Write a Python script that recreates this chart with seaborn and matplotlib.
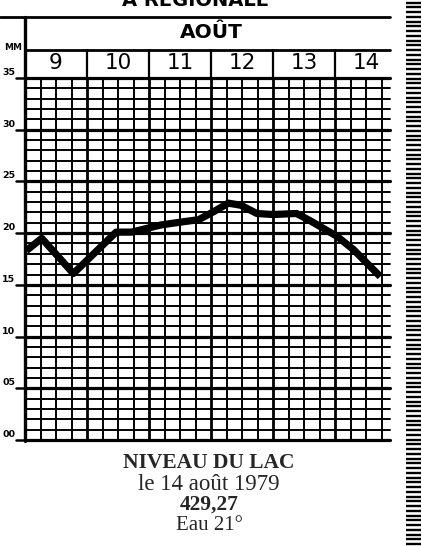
import numpy as np
import matplotlib
matplotlib.use("Agg")
import matplotlib.pyplot as plt
import seaborn as sns
from matplotlib.lines import Line2D

# ---------------- data ----------------
days = [9, 10, 11, 12, 13, 14]
day_labels = ["9", "10", "11", "12", "13", "14"]
month_label = "AOÛT"
y_ticks = [0, 5, 10, 15, 20, 25, 30, 35]
y_tick_labels = ["00", "05", "10", "15", "20", "25", "30", "35"]
unit_label = "MM"
time_pos = [9.02, 9.27, 9.78, 10.47, 10.72, 11.20, 11.55, 11.80, 12.05, 12.28,
            12.48, 12.74, 13.00, 13.38, 13.60, 14.03, 14.30, 14.73]
level = [18.3, 19.5, 16.1, 20.1, 20.1, 20.8, 21.1, 21.3, 22.1, 22.9,
         22.7, 21.9, 21.8, 21.9, 21.2, 19.7, 18.4, 15.8]
footer_lines = ["NIVEAU DU LAC", "le 14 août 1979", "429,27", "Eau 21°"]
top_title = "A RÉGIONALE"

# ---------------- figure ----------------
sns.set_theme(style="white")
plt.rcParams["font.family"] = ["DejaVu Sans"]

W, H = 422, 546
fig = plt.figure(figsize=(W / 100, H / 100), dpi=100)
fig.patch.set_facecolor("white")

def fx(px):
    return px / W

def fy(py):
    return 1 - py / H

left_px, right_px, top_px, bot_px = 25, 390, 78, 440
ax = fig.add_axes([fx(left_px), fy(bot_px), fx(right_px) - fx(left_px), fy(top_px) - fy(bot_px)])
day_w = 62.0
xmax = days[0] + (right_px - left_px) / day_w
ax.set_xlim(days[0], xmax)
ax.set_ylim(0, 35)
ax.set_facecolor("white")
for s in ax.spines.values():
    s.set_visible(False)
ax.set_xticks([])
ax.set_yticks([])

px_per_mm = (bot_px - top_px) / 35.0

# grid: vertical lines (quarter days), horizontal lines (mm)
for q in np.arange(days[0] + 0.25, days[-1] + 0.76, 0.25):
    major = abs(q - round(q)) < 1e-6
    ax.axvline(q, color="black", lw=2.0 if major else 1.4, clip_on=False, zorder=1)
for v in range(0, 36):
    ax.axhline(v, color="black", lw=2.3 if v % 5 == 0 else 1.4, clip_on=False, zorder=1)

# data line
sns.lineplot(x=time_pos, y=level, ax=ax, color="black", linewidth=5.2,
             sort=False, legend=False, zorder=3)
for ln in ax.lines[-1:]:
    ln.set_solid_joinstyle("round")
    ln.set_solid_capstyle("butt")

# y tick labels + ticks
ytf = ax.get_yaxis_transform()
tick_len = 9 / (right_px - left_px)
for v, lab in zip(y_ticks, y_tick_labels):
    ax.add_line(Line2D([-tick_len, 0], [v, v], transform=ytf, color="black",
                       lw=1.8, clip_on=False))
    ax.text(-tick_len - 0.002, v + 0.1, lab, transform=ytf, ha="right", va="bottom",
            fontsize=6.8, fontweight="bold", color="black")

# header (in data coordinates above the grid)
y_hdr_mid = 35 + (top_px - 50) / px_per_mm
y_hdr_top = 35 + (top_px - 17) / px_per_mm
ax.plot([days[0], xmax], [y_hdr_mid, y_hdr_mid], color="black", lw=2.0, clip_on=False)
for d in days[1:]:
    ax.plot([d, d], [35, y_hdr_mid], color="black", lw=1.6, clip_on=False)
for d, lab in zip(days, day_labels):
    ax.text(d + 0.5, (35 + y_hdr_mid) / 2 + 0.05, lab, ha="center", va="center",
            fontsize=15.5, color="black", clip_on=False)
ax.text(12.0, (y_hdr_mid + y_hdr_top) / 2 + 0.1, month_label, ha="center", va="center",
        fontsize=14.5, fontweight="bold", color="black", clip_on=False)

# figure-level header lines
fig.add_artist(Line2D([fx(0), fx(right_px)], [fy(17), fy(17)], transform=fig.transFigure,
                      color="black", lw=2.0))
fig.add_artist(Line2D([fx(left_px), fx(left_px)], [fy(17), fy(bot_px + 1)],
                      transform=fig.transFigure, color="black", lw=2.4))

fig.text(fx(22), fy(47), unit_label, ha="right", va="center", fontsize=6.5,
         fontweight="bold", color="black")

# partially cut title at top (as in the reference, only its lower part is visible)
fig.text(fx(195), fy(5.5), top_title, ha="center", va="baseline", fontsize=14,
         fontweight="bold", color="black")

# footer text
serif = ["Liberation Serif", "DejaVu Serif"]
fig.text(fx(209), fy(463), footer_lines[0], ha="center", va="center", fontsize=15.5,
         fontweight="bold", family=serif)
fig.text(fx(209), fy(485), footer_lines[1], ha="center", va="center", fontsize=16.5,
         family=serif)
fig.text(fx(209), fy(505), footer_lines[2], ha="center", va="center", fontsize=15.5,
         fontweight="bold", family=serif)
fig.text(fx(209), fy(526), footer_lines[3], ha="center", va="center", fontsize=15,
         family=serif)

# right striped border
axs = fig.add_axes([fx(406), 0, fx(15), 1])
axs.set_xlim(0, 1)
axs.set_ylim(0, H)
axs.hlines(np.arange(2, H, 4.75), 0, 1, color="black", lw=1.7)
axs.axis("off")

fig.savefig("out.png", dpi=100, facecolor="white")
